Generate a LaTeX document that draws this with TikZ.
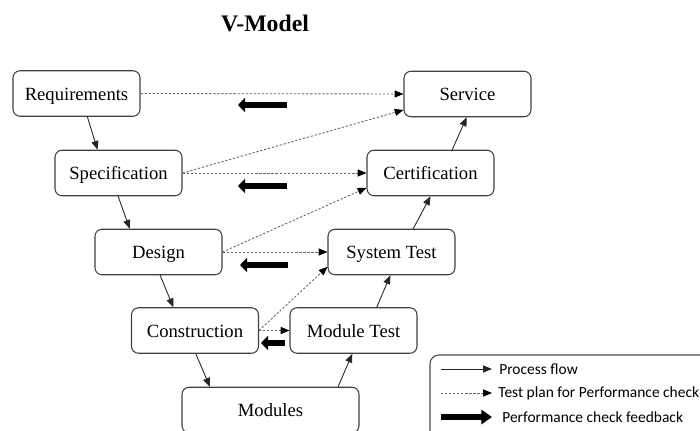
\documentclass[tikz,border=0pt]{standalone}
\usepackage{fontspec}
\setmainfont{Liberation Serif}
\newfontfamily\legendfont{Carlito}
\usetikzlibrary{arrows.meta}

\begin{document}
\begin{tikzpicture}[x=0.02cm, y=-0.02cm,
  vbox/.style={draw=black!75, line width=0.6pt, rounded corners=4pt, minimum width=2.54cm, minimum height=0.91cm, inner sep=0pt, text height=7.6pt, text depth=0pt, font=\fontsize{10.6}{12}\selectfont},
  flow/.style={draw=black!85, line width=0.5pt, -{Triangle[length=5pt, width=4pt]}},
  plan/.style={draw=black!60, line width=0.5pt, dash pattern=on 1.3pt off 1pt, -{Triangle[length=5pt, width=4pt, fill=black, color=black]}},
  feedback/.style={draw=black, line width=3.6pt, -{Triangle[length=4pt, width=8pt]}},
  legendtext/.style={anchor=west, inner sep=0pt, font=\legendfont\fontsize{8.8}{10}\selectfont}]
\useasboundingbox (0,0) rectangle (700,430);
\node[font=\bfseries\fontsize{13.5}{16}\selectfont] (VTitle) at (265,23) {V-Model};
\node[vbox] (VNReq) at (76.5,93.5) {Requirements};
\node[vbox] (VNSpec) at (118.5,173) {Specification};
\node[vbox] (VNDesign) at (158.5,252) {Design};
\node[vbox] (VNConstr) at (195,330.5) {Construction};
\node[vbox, minimum width=3.54cm] (VNModules) at (270.5,410) {Modules};
\node[vbox] (VNModTest) at (353.5,330.5) {Module Test};
\node[vbox] (VNSysTest) at (391.5,252) {System Test};
\node[vbox] (VNCert) at (430.5,173) {Certification};
\node[vbox] (VNService) at (467.5,94) {Service};
\draw[flow] (VNReq.-65) -- (VNSpec.132);
\draw[flow] (VNSpec.-91) -- (VNDesign.141);
\draw[flow] (VNDesign.-86) -- (VNConstr.133);
\draw[flow] (VNConstr.-88) -- (VNModules.159);
\draw[flow] (VNModules.19) -- (VNModTest.-93);
\draw[flow] (VNModTest.45) -- (VNSysTest.-93);
\draw[flow] (VNSysTest.47) -- (VNCert.-90);
\draw[flow] (VNCert.47) -- (VNService.-92);
\draw[plan] (VNReq.east) -- (VNService.west);
\draw[plan] (VNSpec.east) -- (VNService.194);
\draw[plan] (VNSpec.east) -- (VNCert.west);
\draw[plan] (VNDesign.east) -- (VNCert.193);
\draw[plan] (VNDesign.east) -- (VNSysTest.west);
\draw[plan] (VNConstr.east) -- (VNSysTest.193);
\draw[plan] (VNConstr.east) -- (VNModTest.west);
\coordinate (FB1s) at (287,105);
\coordinate (FB1e) at (238,105);
\coordinate (FB2s) at (287,186);
\coordinate (FB2e) at (238,186);
\coordinate (FB3s) at (288,265);
\coordinate (FB3e) at (240,265);
\coordinate (FB4s) at (285,343);
\coordinate (FB4e) at (261,343);
\draw[feedback] (FB1s) -- (FB1e);
\draw[feedback] (FB2s) -- (FB2e);
\draw[feedback] (FB3s) -- (FB3e);
\draw[feedback, line width=3pt] (FB4s) -- (FB4e);
\draw[draw=black!70, line width=0.6pt, rounded corners=5pt] (430,355) rectangle (720,450);
\coordinate (LG1s) at (441,369);
\coordinate (LG1e) at (492,369);
\coordinate (LG2s) at (441,393);
\coordinate (LG2e) at (492,393);
\coordinate (LG3s) at (441,417);
\coordinate (LG3e) at (492,417);
\draw[flow] (LG1s) -- (LG1e);
\draw[plan] (LG2s) -- (LG2e);
\draw[feedback, -{Triangle[length=6pt, width=8pt]}] (LG3s) -- (LG3e);
\node[legendtext] (LGT1) at (499,369) {Process flow};
\node[legendtext] (LGT2) at (498,393) {Test plan for Performance check};
\node[legendtext] (LGT3) at (502,417) {Performance check feedback};
\end{tikzpicture}
\end{document}
